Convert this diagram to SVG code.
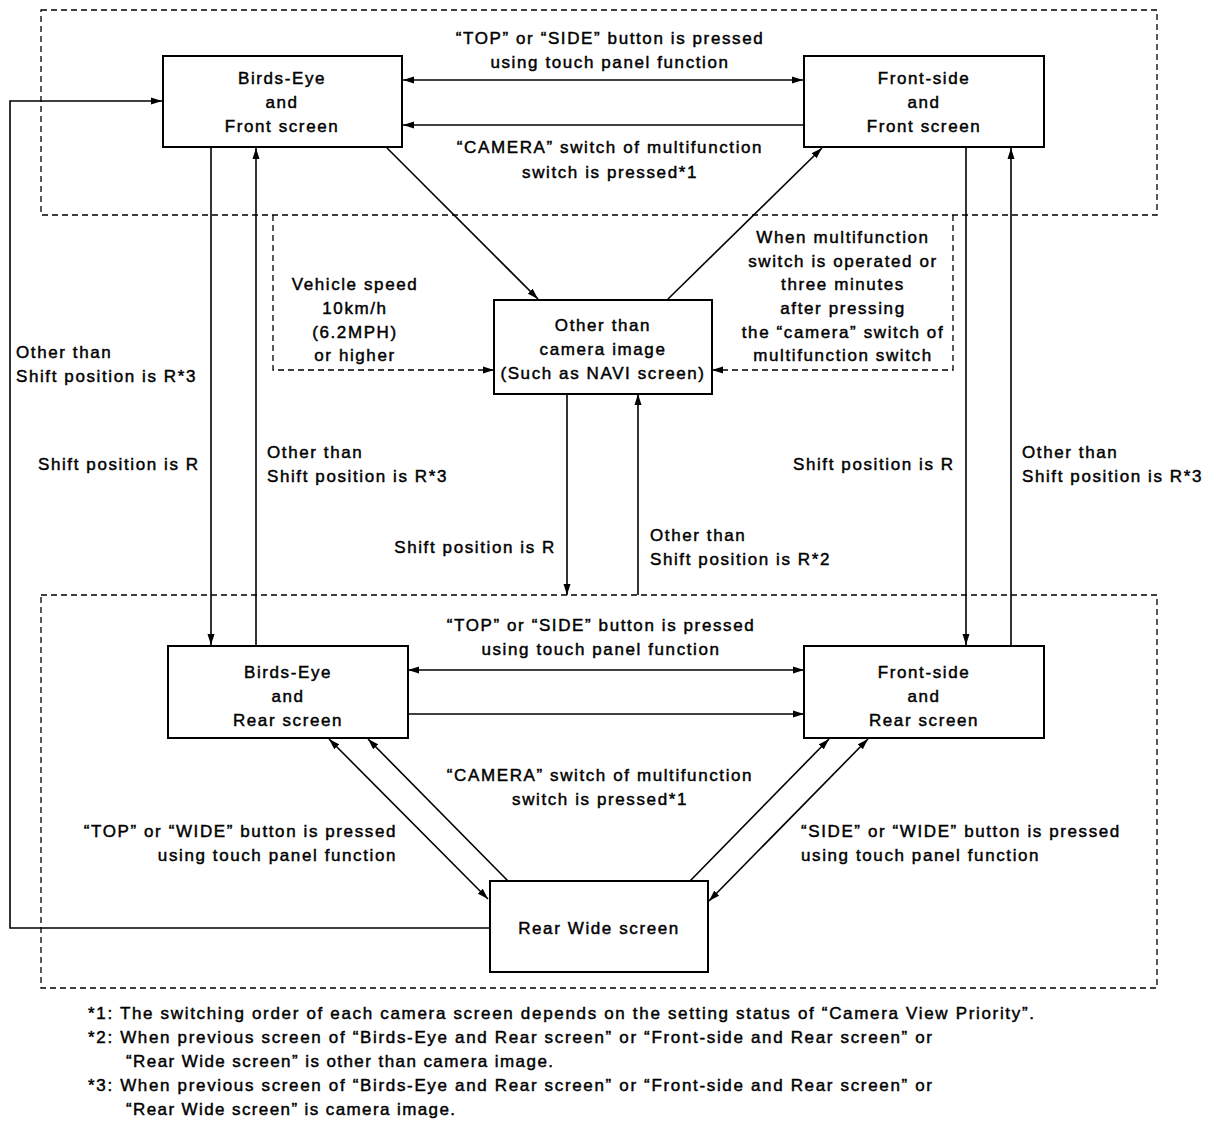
<svg xmlns="http://www.w3.org/2000/svg" width="1216" height="1148" viewBox="0 0 1216 1148">
<style>
text{font-family:"Liberation Sans",Arial,sans-serif;font-size:17px;letter-spacing:1.6px;fill:#000;stroke:#000;stroke-width:0.45px}
.m{text-anchor:middle}
.e{text-anchor:end}
.box{fill:#fff;stroke:#000;stroke-width:2}
.ln{fill:none;stroke:#000;stroke-width:1.6}
.ds{fill:none;stroke:#000;stroke-width:1.3;stroke-dasharray:6 4}
.fn{letter-spacing:0}
</style>
<defs>
<marker id="a" markerUnits="userSpaceOnUse" markerWidth="12" markerHeight="8" refX="11" refY="4" orient="auto-start-reverse"><path d="M0,0.5 L11,4 L0,7.5 z" fill="#000"/></marker>
</defs>
<rect x="41" y="10" width="1116" height="205" class="ds"/>
<rect x="41" y="595" width="1116" height="393" class="ds"/>
<g id="connectors">
<path class="ln" d="M490,928 H10 V101 H162" marker-end="url(#a)"/>
<path class="ln" d="M403,80 H803" marker-start="url(#a)" marker-end="url(#a)"/>
<path class="ln" d="M803,125 H403" marker-end="url(#a)"/>
<path class="ln" d="M408,670 H804" marker-start="url(#a)" marker-end="url(#a)"/>
<path class="ln" d="M408,714 H804" marker-end="url(#a)"/>
<path class="ln" d="M211,148 V645" marker-end="url(#a)"/>
<path class="ln" d="M256,646 V148" marker-end="url(#a)"/>
<path class="ln" d="M966,148 V645" marker-end="url(#a)"/>
<path class="ln" d="M1011,646 V148" marker-end="url(#a)"/>
<path class="ln" d="M567,394 V595" marker-end="url(#a)"/>
<path class="ln" d="M638,595 V394" marker-end="url(#a)"/>
<path class="ln" d="M387,148 L538,299" marker-end="url(#a)"/>
<path class="ln" d="M668,299 L822,148" marker-end="url(#a)"/>
<path class="ds" d="M273,215 V370 H494" marker-end="url(#a)"/>
<path class="ds" d="M953,215 V370 H712" marker-end="url(#a)"/>
<path class="ln" d="M329,739 L488,899" marker-start="url(#a)" marker-end="url(#a)"/>
<path class="ln" d="M508,881 L368,739" marker-end="url(#a)"/>
<path class="ln" d="M690,881 L829,739" marker-end="url(#a)"/>
<path class="ln" d="M868,739 L709,901" marker-start="url(#a)" marker-end="url(#a)"/>
</g>
<g id="n-bef">
<rect class="box" x="163" y="56" width="239" height="91"/>
<text class="m" x="282" y="84">Birds-Eye</text>
<text class="m" x="282" y="108">and</text>
<text class="m" x="282" y="132">Front screen</text>
</g>
<g id="n-fsf">
<rect class="box" x="804" y="56" width="240" height="91"/>
<text class="m" x="924" y="84">Front-side</text>
<text class="m" x="924" y="108">and</text>
<text class="m" x="924" y="132">Front screen</text>
</g>
<g id="n-other">
<rect class="box" x="494" y="300" width="218" height="94"/>
<text class="m" x="603" y="331">Other than</text>
<text class="m" x="603" y="355">camera image</text>
<text class="m" x="603" y="379">(Such as NAVI screen)</text>
</g>
<g id="n-ber">
<rect class="box" x="168" y="646" width="240" height="92"/>
<text class="m" x="288" y="678">Birds-Eye</text>
<text class="m" x="288" y="702">and</text>
<text class="m" x="288" y="726">Rear screen</text>
</g>
<g id="n-fsr">
<rect class="box" x="804" y="646" width="240" height="92"/>
<text class="m" x="924" y="678">Front-side</text>
<text class="m" x="924" y="702">and</text>
<text class="m" x="924" y="726">Rear screen</text>
</g>
<g id="n-rw">
<rect class="box" x="490" y="881" width="218" height="91"/>
<text class="m" x="599" y="934">Rear Wide screen</text>
</g>
<g id="labels">
<text class="m" x="610" y="44">“TOP” or “SIDE” button is pressed</text>
<text class="m" x="610" y="68">using touch panel function</text>
<text class="m" x="610" y="153">“CAMERA” switch of multifunction</text>
<text class="m" x="610" y="178">switch is pressed*1</text>
<text x="16" y="358">Other than</text>
<text x="16" y="382">Shift position is R*3</text>
<text x="38" y="470">Shift position is R</text>
<text x="267" y="458">Other than</text>
<text x="267" y="482">Shift position is R*3</text>
<text class="m" x="355" y="290">Vehicle speed</text>
<text class="m" x="355" y="314">10km/h</text>
<text class="m" x="355" y="338">(6.2MPH)</text>
<text class="m" x="355" y="361">or higher</text>
<text class="m" x="843" y="243">When multifunction</text>
<text class="m" x="843" y="267">switch is operated or</text>
<text class="m" x="843" y="290">three minutes</text>
<text class="m" x="843" y="314">after pressing</text>
<text class="m" x="843" y="338">the “camera” switch of</text>
<text class="m" x="843" y="361">multifunction switch</text>
<text class="e" x="556" y="553">Shift position is R</text>
<text x="650" y="541">Other than</text>
<text x="650" y="565">Shift position is R*2</text>
<text x="793" y="470">Shift position is R</text>
<text x="1022" y="458">Other than</text>
<text x="1022" y="482">Shift position is R*3</text>
<text class="m" x="601" y="631">“TOP” or “SIDE” button is pressed</text>
<text class="m" x="601" y="655">using touch panel function</text>
<text class="m" x="600" y="781">“CAMERA” switch of multifunction</text>
<text class="m" x="600" y="805">switch is pressed*1</text>
<text class="e" x="397" y="837">“TOP” or “WIDE” button is pressed</text>
<text class="e" x="397" y="861">using touch panel function</text>
<text x="801" y="837">“SIDE” or “WIDE” button is pressed</text>
<text x="801" y="861">using touch panel function</text>
</g>
<g id="footnotes">
<text class="fn" x="88" y="1019" textLength="946" lengthAdjust="spacing">*1: The switching order of each camera screen depends on the setting status of “Camera View Priority”.</text>
<text class="fn" x="88" y="1043" textLength="844" lengthAdjust="spacing">*2: When previous screen of “Birds-Eye and Rear screen” or “Front-side and Rear screen” or</text>
<text class="fn" x="126" y="1067" textLength="427" lengthAdjust="spacing">“Rear Wide screen” is other than camera image.</text>
<text class="fn" x="88" y="1091" textLength="844" lengthAdjust="spacing">*3: When previous screen of “Birds-Eye and Rear screen” or “Front-side and Rear screen” or</text>
<text class="fn" x="126" y="1115" textLength="329" lengthAdjust="spacing">“Rear Wide screen” is camera image.</text>
</g>
</svg>
